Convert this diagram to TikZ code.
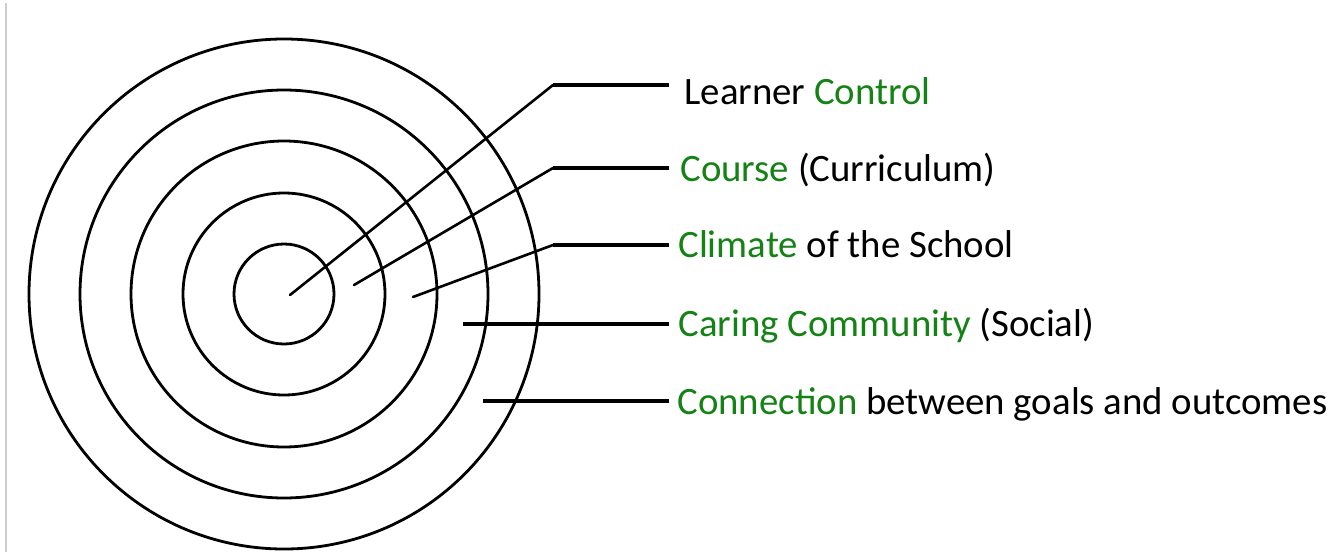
\documentclass[tikz,border=0pt]{standalone}
\usepackage{fontspec}
\setmainfont{Carlito}
\definecolor{lblgreen}{RGB}{20,130,20}
\definecolor{edgegray}{RGB}{205,205,205}
\begin{document}
\begin{tikzpicture}[x=0.5pt,y=-0.5pt,
  ring/.style={draw=black,line width=1.4pt},
  slant/.style={draw=black,line width=1.3pt,line cap=round},
  lead/.style={draw=black,line width=1.75pt},
  lbl/.style={anchor=base west,inner sep=0pt,font=\fontsize{19.4}{23}\selectfont},
  grn/.style={text=lblgreen}]
\useasboundingbox (0,0) rectangle (1333,552);
\fill[white] (0,0) rectangle (1333,552);
\draw[edgegray,line width=0.6pt] (6,3) -- (6,552);
% target rings
\coordinate (c) at (284,294);
\foreach \r/\n in {50/r1,101/r2,153/r3,204/r4,255/r5}
  \draw[ring] (c) circle[radius=\r];
% labels
\node[lbl] (t1) at (684,104) {Learner \textcolor{lblgreen}{Control}};
\node[lbl] (t2) at (680,181) {\textcolor{lblgreen}{Course} (Curriculum)};
\node[lbl] (t3) at (678,257) {\textcolor{lblgreen}{Climate} of the School};
\node[lbl] (t4) at (678,336) {\textcolor{lblgreen}{Caring Community} (Social)};
\node[lbl] (t5) at (677,414) {\textcolor{lblgreen}{Connection} between goals and outcomes};
% connector points
\coordinate (p1) at (290,295); \coordinate (b1) at (553,85);  \coordinate (e1) at (669,85);
\coordinate (p2) at (354,285); \coordinate (b2) at (553,168); \coordinate (e2) at (669,168);
\coordinate (p3) at (413,297); \coordinate (b3) at (553,245); \coordinate (e3) at (669,245);
\coordinate (p4) at (463,324); \coordinate (e4) at (669,324);
\coordinate (p5) at (483,401); \coordinate (e5) at (669,401);
\draw[slant] (p1) -- (b1);
\draw[lead] (b1) -- (e1);
\draw[slant] (p2) -- (b2);
\draw[lead] (b2) -- (e2);
\draw[slant] (p3) -- (b3);
\draw[lead] (b3) -- (e3);
\draw[lead] (p4) -- (e4);
\draw[lead] (p5) -- (e5);
\end{tikzpicture}
\end{document}
